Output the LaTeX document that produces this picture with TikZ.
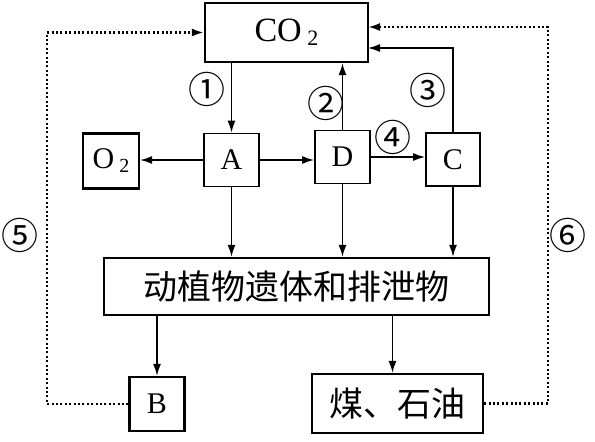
\documentclass[tikz,border=0pt]{standalone}
\usepackage{fontspec}
\setmainfont{Liberation Serif}
\newfontfamily\cjk{Noto Sans CJK SC}
\usetikzlibrary{arrows.meta}
\begin{document}
\begin{tikzpicture}[x=1pt, y=-1pt,
  box/.style={draw, line width=1.6pt, inner sep=0pt, font=\fontsize{30}{30}\selectfont},
  flow/.style={line width=1.6pt, -{Latex[length=12pt,width=8pt]}},
  dots/.style={line width=2.2pt, dash pattern=on 2pt off 2.4pt, -{Latex[length=12pt,width=8pt]}},
  num/.style={font=\cjk\fontsize{37}{37}\selectfont, inner sep=0pt}]
\useasboundingbox (0,0) rectangle (595,442);
\node[box, minimum width=163pt, minimum height=59pt, line width=2.2pt, font=\fontsize{34}{34}\selectfont] (co2) at (286.5,32.5){CO\,\raisebox{-4pt}{\fontsize{22}{22}\selectfont 2}};
\node[box, minimum width=56pt, minimum height=55pt, line width=2.2pt] (oxy) at (111,161){O\,\raisebox{-4pt}{\fontsize{20}{20}\selectfont 2}};
\node[box, minimum width=55pt, minimum height=53pt] (a) at (231.5,160){A};
\node[box, minimum width=55pt, minimum height=53pt] (d) at (342.5,157){D};
\node[box, minimum width=54pt, minimum height=53pt] (c) at (453,159.5){C};
\node[box, minimum width=385pt, minimum height=57pt, line width=2.2pt, font=\cjk\fontsize{34}{34}\selectfont] (rem) at (296.5,286.5){动植物遗体和排泄物};
\node[box, minimum width=55pt, minimum height=54pt, line width=2.2pt] (b) at (157,404){B};
\node[box, minimum width=171pt, minimum height=59pt, line width=2.2pt, font=\cjk\fontsize{34}{34}\selectfont] (coal) at (397.5,403.5){煤、石油};
\coordinate (co2in3) at (368,48);
\coordinate (co2in6) at (368,27);
\coordinate (turn5) at (47,404);
\coordinate (turn6) at (548,403.5);
\draw[flow] (co2.south -| a.north) -- (a.north);
\draw[flow] (d.north) -- (d.north |- co2.south);
\draw[flow] (c.north) |- (co2in3);
\draw[flow] (a.west) -- (a.west -| oxy.east);
\draw[flow] (a.east) -- (a.east -| d.west);
\draw[flow] (d.east) -- (d.east -| c.west);
\draw[flow] (a.south) -- (a.south |- rem.north);
\draw[flow] (d.south) -- (d.south |- rem.north);
\draw[flow] (c.south) -- (c.south |- rem.north);
\draw[flow] (rem.south -| b.north) -- (b.north);
\draw[flow] ([xshift=-5pt]rem.south -| coal.north) -- ([xshift=-5pt]coal.north);
\draw[dots] (b.west) -- (turn5) |- (co2.west);
\draw[dots] (coal.east) -- (turn6) |- (co2in6);
\node[num] (n1) at (207,89){①};
\node[num] (n2) at (326,103){②};
\node[num] (n3) at (428,90){③};
\node[num] (n4) at (393,137){④};
\node[num] (n5) at (20,235){⑤};
\node[num] (n6) at (568,235){⑥};
\end{tikzpicture}
\end{document}
